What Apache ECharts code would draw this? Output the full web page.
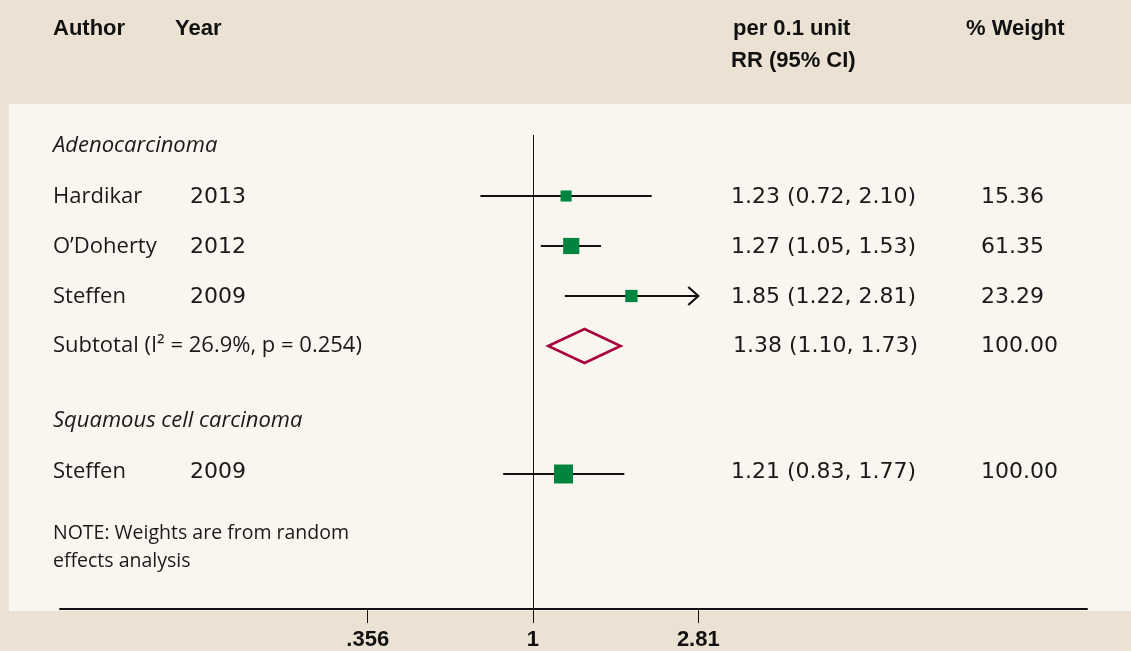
<!DOCTYPE html>
<html><head><meta charset="utf-8">
<style>html,body{margin:0;padding:0;background:#ECE2D3;}#c{width:1131px;height:651px;}</style>
<script src="https://cdn.jsdelivr.net/npm/echarts@6/dist/echarts.min.js"></script>
</head><body><div id="c"></div>
<script>
// ---------- data ----------
const groupNames = ['Adenocarcinoma', 'Squamous cell carcinoma'];
const studyGroup = [0, 0, 0, 1];
const authors = ['Hardikar', 'O\u2019Doherty', 'Steffen', 'Steffen'];
const years = ['2013', '2012', '2009', '2009'];
const rrEst = [1.23, 1.27, 1.85, 1.21];
const rrLow = [0.72, 1.05, 1.22, 0.83];
const rrHigh = [2.10, 1.53, 2.81, 1.77];
const weights = [15.36, 61.35, 23.29, 100.00];
const subGroup = [0];
const subLabel = ['Subtotal (I\u00B2 = 26.9%, p = 0.254)'];
const subEst = [1.38];
const subLow = [1.10];
const subHigh = [1.73];
const subWeight = [100.00];
const tickValues = [0.356, 1, 2.81];
const tickLabels = ['.356', '1', '2.81'];
const clipMax = 2.81;
const headerCols = ['Author', 'Year', 'per 0.1 unit', 'RR (95% CI)', '% Weight'];
const noteLines = ['NOTE: Weights are from random', 'effects analysis'];

// ---------- layout of rows ----------
const textRows = [];   // [row, kind, index]
const studyRows = [];
const subRows = [];
let r = 0;
groupNames.forEach((g, gi) => {
  if (gi > 0) r += 0.5;
  textRows.push([r, 0, gi]); r += 1;
  studyGroup.forEach((sg, i) => { if (sg === gi) { studyRows[i] = r + (gi > 0 ? 0.06 : 0); textRows.push([r, 1, i]); r += 1; } });
  subGroup.forEach((sg, j) => { if (sg === gi) { subRows[j] = r; textRows.push([r, 2, j]); r += 1; } });
});
textRows.push([r + 0.25, 3, 0]);

const ln = Math.log;
const fmt = v => v.toFixed(2);
const TXT = '22px "Open Sans"';
const NUM = '22px "DejaVu Sans"';
const INK = '#1a1a1a';
const COL = { author: 53, year: 190, rr: 731, weight: 981 };

const chart = echarts.init(document.getElementById('c'), null, { renderer: 'canvas' });

function renderText(params, api) {
  const row = api.value(0), kind = api.value(1), idx = api.value(2);
  const y = api.coord([0, row])[1];
  const t = (x, text, font, dy) => ({ type: 'text', x: x, y: y + (dy || 0),
    style: { text: text, font: font, fill: INK, align: 'left', verticalAlign: 'middle' } });
  const ch = [];
  if (kind === 0) {
    ch.push(t(COL.author, groupNames[idx], 'italic ' + TXT));
  } else if (kind === 1) {
    ch.push(t(COL.author, authors[idx], TXT, 1));
    ch.push(t(COL.year, years[idx], NUM, 1));
    ch.push(t(COL.rr, fmt(rrEst[idx]) + ' (' + fmt(rrLow[idx]) + ', ' + fmt(rrHigh[idx]) + ')', NUM, 1));
    ch.push(t(COL.weight, fmt(weights[idx]), NUM, 1));
  } else if (kind === 2) {
    ch.push(t(COL.author, subLabel[idx], TXT));
    ch.push(t(COL.rr + 2, fmt(subEst[idx]) + ' (' + fmt(subLow[idx]) + ', ' + fmt(subHigh[idx]) + ')', NUM));
    ch.push(t(COL.weight, fmt(subWeight[idx]), NUM));
  } else {
    noteLines.forEach((s, k) => ch.push(t(COL.author, s, '19.5px "Open Sans"', k * 28)));
  }
  return { type: 'group', children: ch };
}

function renderStudy(params, api) {
  const lo = api.value(0), hi = api.value(1), est = api.value(2), row = api.value(3), w = api.value(4);
  const cmax = ln(clipMax);
  const hiC = Math.min(hi, cmax);
  const p0 = api.coord([lo, row]), p1 = api.coord([hiC, row]), pc = api.coord([est, row]);
  const s = 6 + 1.3 * Math.sqrt(w);
  const ch = [{ type: 'line', shape: { x1: p0[0], y1: p0[1], x2: p1[0], y2: p1[1] },
    style: { stroke: '#111', lineWidth: 2.2 } }];
  if (hi >= cmax - 1e-9) {
    ch.push({ type: 'polyline', shape: { points: [[p1[0] - 10, p1[1] - 9], [p1[0], p1[1]], [p1[0] - 10, p1[1] + 9]] },
      style: { stroke: '#111', lineWidth: 2.2, fill: null } });
  }
  ch.push({ type: 'rect', shape: { x: pc[0] - s / 2, y: pc[1] - s / 2, width: s, height: s },
    style: { fill: '#00843F' } });
  return { type: 'group', children: ch };
}

function renderSub(params, api) {
  const lo = api.value(0), hi = api.value(1), est = api.value(2), row = api.value(3);
  const a = api.coord([lo, row]), b = api.coord([est, row]), c = api.coord([hi, row]);
  const h = 17;
  return { type: 'polygon', shape: { points: [[a[0], a[1]], [b[0], b[1] - h], [c[0], c[1]], [b[0], b[1] + h]] },
    style: { stroke: '#A8003F', lineWidth: 2.5, fill: 'rgba(0,0,0,0)' } };
}

const HF = '700 22px "Liberation Sans"';
const option = {
  backgroundColor: '#ECE2D3',
  animation: false,
  graphic: [
    { type: 'rect', z: -10, shape: { x: 9, y: 104, width: 1122, height: 507 }, style: { fill: '#F9F6EF' } },
    { type: 'text', x: 53, y: 29, style: { text: headerCols[0], font: HF, fill: '#111', verticalAlign: 'middle' } },
    { type: 'text', x: 175, y: 29, style: { text: headerCols[1], font: HF, fill: '#111', verticalAlign: 'middle' } },
    { type: 'text', x: 733, y: 29, style: { text: headerCols[2], font: HF, fill: '#111', verticalAlign: 'middle' } },
    { type: 'text', x: 731, y: 61, style: { text: headerCols[3], font: HF, fill: '#111', verticalAlign: 'middle' } },
    { type: 'text', x: 966, y: 29, style: { text: headerCols[4], font: HF, fill: '#111', verticalAlign: 'middle' } }
  ],
  grid: { left: 60, right: 44, top: 135, bottom: 42, containLabel: false },
  xAxis: {
    type: 'value', position: 'bottom', min: -2.956, max: 3.4625,
    axisLine: { show: true, onZero: false, lineStyle: { color: '#111', width: 2 } },
    axisTick: { show: true, length: 14, lineStyle: { color: '#111', width: 1 }, customValues: tickValues.map(ln) },
    axisLabel: {
      show: true, margin: 20, customValues: tickValues.map(ln),
      fontFamily: 'Liberation Sans', fontWeight: 'bold', fontSize: 22, color: '#111',
      formatter: v => { let best = 0; tickValues.forEach((t, i) => { if (Math.abs(ln(t) - v) < Math.abs(ln(tickValues[best]) - v)) best = i; }); return tickLabels[best]; }
    },
    splitLine: { show: false }
  },
  yAxis: { type: 'value', inverse: true, min: -0.22, max: 9.26, show: false },
  series: [
    {
      type: 'custom', renderItem: renderStudy, clip: false, z: 5,
      encode: { x: [0, 1, 2], y: 3 },
      data: rrEst.map((e, i) => [ln(rrLow[i]), ln(rrHigh[i]), ln(e), studyRows[i], weights[i]]),
      markLine: { silent: true, symbol: 'none', label: { show: false },
        lineStyle: { color: '#111', width: 1, type: 'solid' }, data: [{ xAxis: 0 }] }
    },
    {
      type: 'custom', renderItem: renderSub, clip: false, z: 5,
      encode: { x: [0, 1, 2], y: 3 },
      data: subEst.map((e, j) => [ln(subLow[j]), ln(subHigh[j]), ln(e), subRows[j]])
    },
    {
      type: 'custom', renderItem: renderText, clip: false, z: 6,
      encode: { y: 0 },
      data: textRows
    }
  ]
};
chart.setOption(option);
</script></body></html>
